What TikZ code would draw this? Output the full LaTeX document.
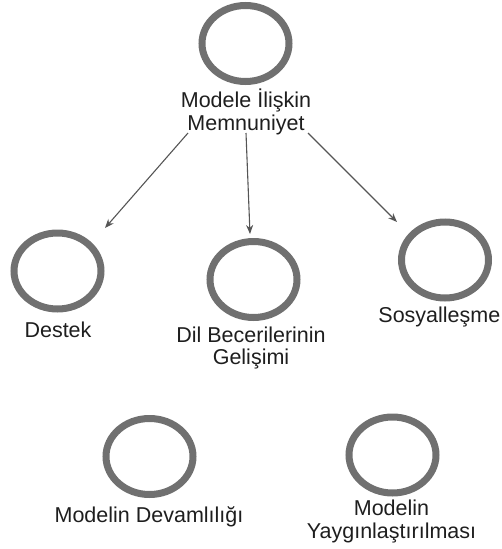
\documentclass[tikz,border=0pt]{standalone}
\usepackage{fontspec}
\setmainfont{Liberation Sans}
\usetikzlibrary{arrows.meta,shapes.geometric}
\definecolor{ringgray}{RGB}{112,112,112}
\definecolor{txt}{RGB}{30,30,30}
\definecolor{arrgray}{RGB}{85,85,85}
\begin{document}
\begin{tikzpicture}[x=1pt,y=-1pt,
  ring/.style={ellipse, draw=ringgray, line width=7pt, minimum width=87pt, minimum height=76pt, inner sep=0pt},
  lbl/.style={font=\fontsize{21.5}{22.5}\selectfont, text=txt, align=center, inner sep=0pt, anchor=base},
  arr/.style={draw=arrgray, line width=1.1pt, -{Stealth[length=9pt,width=7pt]}}]
\useasboundingbox (0,0) rectangle (502,549);
% circles
\node[ring] (ctop) at (245.5,43.5) {};
\node[ring] (cdes) at (57.5,271) {};
\node[ring] (cdil) at (253.5,279.5) {};
\node[ring] (csos) at (445,260) {};
\node[ring] (cdev) at (149.5,456.5) {};
\node[ring] (cyay) at (392.5,455) {};
% labels (multi-line: base = last line baseline)
\node[lbl] (ttop) at (246,130) {Modele İlişkin\\Memnuniyet};
\node[lbl] (tdes) at (58,337) {Destek};
\node[lbl] (tdil) at (251,364.5) {Dil Becerilerinin\\Gelişimi};
\node[lbl, anchor=base east] (tsos) at (500.5,322) {Sosyalleşme};
\node[lbl] (tdev) at (149,522) {Modelin Devamlılığı};
\node[lbl] (tyay) at (391.5,538.3) {Modelin\\Yaygınlaştırılması};
% arrow ends
\coordinate (s1) at (188,133);
\coordinate (s2) at (246,133);
\coordinate (s3) at (308,133);
\coordinate (e1) at (105,228);
\coordinate (e2) at (250,234);
\coordinate (e3) at (397,222);
\draw[arr] (s1) -- (e1);
\draw[arr] (s2) -- (e2);
\draw[arr] (s3) -- (e3);
\end{tikzpicture}
\end{document}
